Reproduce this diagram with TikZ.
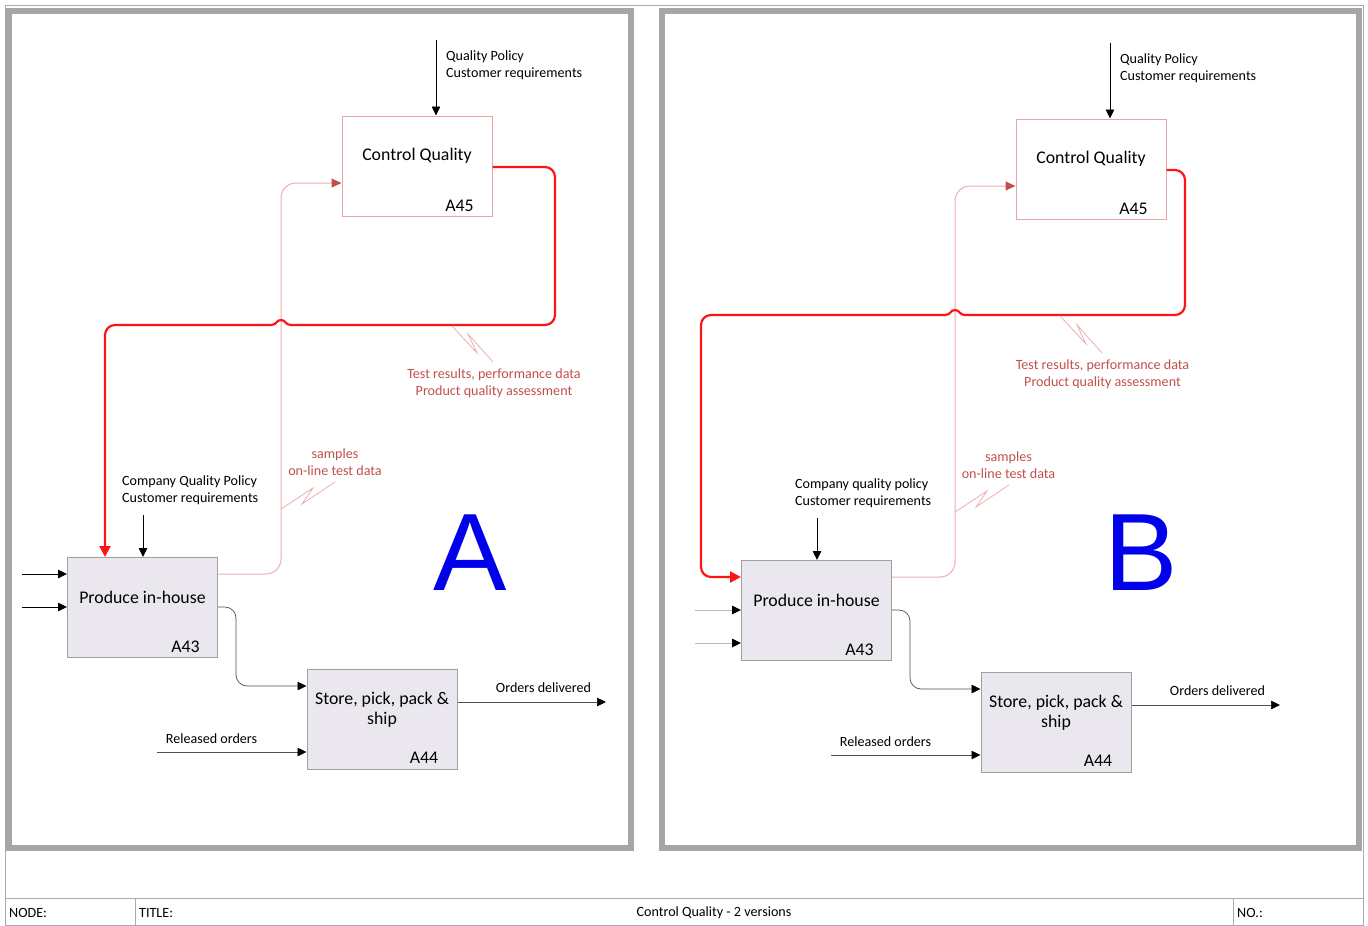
\documentclass[tikz,border=0pt]{standalone}
\usepackage{fontspec}
\setmainfont{Carlito}
\newfontfamily\letterfont{Liberation Sans}
\usetikzlibrary{arrows.meta}

\definecolor{framegray}{RGB}{166,166,166}
\definecolor{rulegray}{RGB}{170,170,170}
\definecolor{boxfill}{RGB}{234,231,239}
\definecolor{boxline}{RGB}{160,160,160}
\definecolor{fbred}{RGB}{255,20,20}
\definecolor{fbpink}{RGB}{240,172,172}
\definecolor{tipred}{RGB}{192,80,77}
\definecolor{labred}{RGB}{192,80,77}
\definecolor{cqline}{RGB}{232,165,165}
\definecolor{connlight}{RGB}{185,185,185}
\definecolor{conndark}{RGB}{80,80,80}
\definecolor{letterblue}{RGB}{0,0,235}

\begin{document}
\begin{tikzpicture}[x=1pt,y=-1pt,
  actbox/.style={draw=boxline, fill=boxfill, line width=1pt,
    minimum width=150pt, minimum height=100pt, inner sep=0pt},
  ctlbox/.style={draw=cqline, fill=white, line width=1pt,
    minimum width=150pt, minimum height=100pt, inner sep=0pt},
  boxtext/.style={font=\fontsize{17.8}{20}\selectfont, inner sep=0pt, align=center},
  smalltext/.style={font=\fontsize{14.1}{17}\selectfont, inner sep=0pt},
  lefttext/.style={smalltext, align=left, anchor=west},
  redtext/.style={smalltext, text=labred, align=center},
  bigletter/.style={font=\letterfont\fontsize{110}{110}\selectfont, text=letterblue, inner sep=0pt},
  tip/.style={-{Triangle[length=9pt,width=8.5pt,color=black]}},
  blackconn/.style={draw=black, line width=0.8pt, tip},
  greyconn/.style={draw=connlight, line width=0.9pt, tip},
  darkconn/.style={draw=conndark, line width=0.7pt, rounded corners=11pt, tip},
  pinkconn/.style={draw=fbpink, line width=1pt, rounded corners=15pt,
    -{Triangle[length=10pt,width=9pt,color=tipred]}},
  redline/.style={draw=fbred, line width=2.2pt, rounded corners=10pt},
  redtip/.style={-{Triangle[length=11pt,width=11pt]}},
  squig/.style={draw=fbpink, line width=0.8pt},
  framebox/.style={draw=framegray, line width=6.5pt},
  rule/.style={draw=rulegray, line width=0.8pt}
]
\useasboundingbox (0,0) rectangle (1368,926);

% ---------- sheet border, panel frames and title block ----------
\draw[rule] (5,5) rectangle (1363,925.5);
\draw[framebox] (8.5,11) rectangle (631,848);
\draw[framebox] (662,11) rectangle (1359,848);
\draw[rule] (5,898) -- (1363,898);
\draw[rule] (135,898) -- (135,926);
\draw[rule] (1233,898) -- (1233,926);
\node[smalltext, anchor=west] (fNode) at (9,913) {NODE:};
\node[smalltext, anchor=west] (fTitle) at (139,913) {TITLE:};
\node[smalltext] (fName) at (714,913) {Control Quality - 2 versions};
\node[smalltext, anchor=west] (fNo) at (1237,913) {NO.:};

% ================= version A =================
\node[ctlbox] (aCQ) at (417,166) {};
\node[actbox] (aPH) at (142.5,607.5) {};
\node[actbox] (aSP) at (382,719) {};

\node[boxtext] (aCQt) at (417,156) {Control Quality};
\node[boxtext] (aCQn) at (459.5,206) {A45};
\node[boxtext] (aPHt) at (142.5,597) {Produce in-house};
\node[boxtext] (aPHn) at (185.5,647) {A43};
\node[boxtext] (aSPt) at (382,709.5) {Store, pick, pack \&\\ship};
\node[boxtext] (aSPn) at (424,758) {A44};

% feedback of samples to Control Quality
\draw[pinkconn] (aPH.east |- 0,574) -- (281,574) -- (281,183) -- (aCQ.west |- 0,183);
% results fed back to production, hopping over the samples line
\draw[redline] (aCQ.east |- 0,167) -- (555,167) -- (555,325) -- (291,325);
\draw[draw=fbred, line width=2.2pt] (291,325) .. controls (285,325) and (286,320) .. (281,320)
  .. controls (276,320) and (277,325) .. (271,325);
\draw[redline, redtip] (271,325) -- (105,325) -- (aPH.north -| 105,0);

% squiggles tying labels to arrows
\draw[squig] (452,326) -- (477,353) -- (468,334) -- (493,362);
\draw[squig] (281,509) -- (313,488) -- (302,504) -- (335,482);
\node[redtext] (aRes) at (494,383) {Test results, performance data\\Product quality assessment};
\node[redtext] (aSam) at (335,462) {samples\\on-line test data};

% controls
\coordinate (aQin) at (436,40);
\draw[blackconn] (aQin) -- (aQin |- aCQ.north);
\node[lefttext] (aQlab) at (446,65) {Quality Policy\\Customer requirements};
\coordinate (aCin) at (143,515);
\draw[blackconn] (aCin) -- (aCin |- aPH.north);
\node[lefttext] (aClab) at (122,490) {Company Quality Policy\\Customer requirements};

% inputs and outputs
\coordinate (aIn1) at (22,574);
\coordinate (aIn2) at (22,607);
\draw[blackconn] (aIn1) -- (aPH.west |- aIn1);
\draw[blackconn] (aIn2) -- (aPH.west |- aIn2);
\draw[darkconn] (aPH.east |- 0,607) -- (236,607) -- (236,686) -- (aSP.west |- 0,686);
\coordinate (aRel) at (157,752);
\draw[darkconn] (aRel) -- (aSP.west |- aRel);
\node[smalltext] (aRelLab) at (211.5,739) {Released orders};
\coordinate (aOut) at (606,702);
\draw[darkconn] (aSP.east |- aOut) -- (aOut);
\node[smalltext] (aOutLab) at (543.5,688) {Orders delivered};

\node[bigletter] (aLetter) at (470,553) {A};

% ================= version B =================
\node[ctlbox] (bCQ) at (1091,169) {};
\node[actbox] (bPH) at (816.5,610.5) {};
\node[actbox] (bSP) at (1056,722) {};

\node[boxtext] (bCQt) at (1091,159) {Control Quality};
\node[boxtext] (bCQn) at (1133.5,209) {A45};
\node[boxtext] (bPHt) at (816.5,600) {Produce in-house};
\node[boxtext] (bPHn) at (859.5,650) {A43};
\node[boxtext] (bSPt) at (1056,712.5) {Store, pick, pack \&\\ship};
\node[boxtext] (bSPn) at (1098,761) {A44};

% feedback of samples to Control Quality
\draw[pinkconn] (bPH.east |- 0,577) -- (955,577) -- (955,186) -- (bCQ.west |- 0,186);
% results fed back into the side of production
\draw[redline] (bCQ.east |- 0,170) -- (1185,170) -- (1185,315) -- (965,315);
\draw[draw=fbred, line width=2.2pt] (965,315) .. controls (959,315) and (960,310) .. (955,310)
  .. controls (950,310) and (951,315) .. (945,315);
\draw[redline, redtip] (945,315) -- (701,315) -- (701,577) -- (bPH.west |- 0,577);

% squiggles tying labels to arrows
\draw[squig] (1061,317) -- (1086,344) -- (1077,325) -- (1102,353);
\draw[squig] (955,512) -- (987,491) -- (976,507) -- (1009,485);
\node[redtext] (bRes) at (1102.5,374) {Test results, performance data\\Product quality assessment};
\node[redtext] (bSam) at (1008.5,465) {samples\\on-line test data};

% controls
\coordinate (bQin) at (1110,43);
\draw[blackconn] (bQin) -- (bQin |- bCQ.north);
\node[lefttext] (bQlab) at (1120,68) {Quality Policy\\Customer requirements};
\coordinate (bCin) at (817,518);
\draw[blackconn] (bCin) -- (bCin |- bPH.north);
\node[lefttext] (bClab) at (795,493) {Company quality policy\\Customer requirements};

% inputs and outputs
\coordinate (bIn1) at (695,610);
\coordinate (bIn2) at (695,643);
\draw[greyconn] (bIn1) -- (bPH.west |- bIn1);
\draw[greyconn] (bIn2) -- (bPH.west |- bIn2);
\draw[darkconn] (bPH.east |- 0,610) -- (910,610) -- (910,689) -- (bSP.west |- 0,689);
\coordinate (bRel) at (831,755);
\draw[darkconn] (bRel) -- (bSP.west |- bRel);
\node[smalltext] (bRelLab) at (885.5,742) {Released orders};
\coordinate (bOut) at (1280,705);
\draw[darkconn] (bSP.east |- bOut) -- (bOut);
\node[smalltext] (bOutLab) at (1217.5,691) {Orders delivered};

\node[bigletter] (bLetter) at (1141,553) {B};

\end{tikzpicture}
\end{document}
